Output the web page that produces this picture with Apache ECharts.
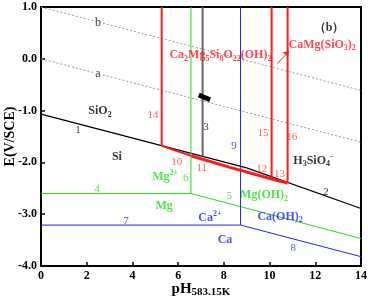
<!DOCTYPE html>
<html>
<head>
<meta charset="utf-8">
<script src="https://cdn.jsdelivr.net/npm/echarts@6/dist/echarts.min.js"></script>
<style>
  html, body { margin: 0; padding: 0; background: #fff; }
  #chart { width: 368px; height: 299px; }
</style>
</head>
<body>
<div id="chart"></div>
<script>
  // boundary lines, [pH, E] pairs
  var lineB = [[0, 1.0], [14, -0.61]];
  var lineA = [[0, 0.0], [14, -1.61]];
  var line1 = [[0, -1.07], [9.0, -2.105]];
  var line2 = [[9.0, -2.105], [14, -2.89]];
  var line3 = [[7.07, 1.0], [7.07, -1.883]];
  var line4 = [[0, -2.6], [6.56, -2.6]];
  var line5 = [[6.56, -2.6], [14, -3.47]];
  var line6 = [[6.56, 1.0], [6.56, -2.6]];
  var line7 = [[0, -3.21], [8.73, -3.21]];
  var line8 = [[8.73, -3.21], [14, -3.82]];
  var line9 = [[8.73, 1.0], [8.73, -3.21]];
  var line10 = [[5.28, -1.68], [6.59, -1.876]];
  var line11to13 = [[6.59, -1.876], [8.27, -2.095], [10.09, -2.32], [10.79, -2.40]];
  var line14 = [[5.28, 1.0], [5.28, -1.68]];
  var line15 = [[10.09, 1.0], [10.09, -2.32]];
  var line16 = [[10.79, 1.0], [10.79, -2.40]];
  var marker = [[6.9, -0.70], [7.4, -0.79]];
  var arrow = [[10.35, -0.09], [10.85, 0.15]];

  var xTicks = [0, 2, 4, 6, 8, 10, 12, 14];
  var yTicks = [1.0, 0.0, -1.0, -2.0, -3.0, -4.0];

  // text labels: [pH, E, text]
  var blackLabels = [
    [2.49, 0.70, 'b'], [2.49, -0.29, 'a'],
    [1.62, -1.37, '1'], [7.22, -1.32, '3'], [12.47, -2.57, '2']
  ];
  var blackBold = [
    [2.58, -1.01, 'SiO{s|2}'], [3.32, -1.90, 'Si'],
    [11.9, -1.97, 'H{s|3}SiO{s|4}{p|-}'], [12.6, 0.59, '（b）']
  ];
  var redNums = [
    [4.9, -1.08, '14'], [9.71, -1.43, '15'], [10.97, -1.52, '16'],
    [5.94, -1.99, '10'], [7.03, -2.11, '11'], [9.66, -2.13, '12'], [10.43, -2.23, '13']
  ];
  var redBold = [
    [7.85, 0.07, 'Ca{s|2}Mg{s|5}Si{s|8}O{s|22}(OH){s|2}'],
    [12.3, 0.27, 'CaMg(SiO{s|3}){s|2}']
  ];
  var greenNums = [[2.45, -2.51, '4'], [6.33, -2.31, '6'], [8.24, -2.66, '5']];
  var greenBold = [
    [5.43, -2.28, 'Mg{p|2+}'], [9.76, -2.63, 'Mg(OH){s|2}'], [5.39, -2.84, 'Mg']
  ];
  var blueNums = [[3.72, -3.13, '7'], [8.44, -1.68, '9'], [11.04, -3.66, '8']];
  var blueBold = [
    [7.39, -3.07, 'Ca{p|2+}'], [10.46, -3.05, 'Ca(OH){s|2}'], [8.05, -3.5, 'Ca']
  ];

  var FONT = '"Liberation Serif", "Times New Roman", serif';
  var RED = '#ff1a1a', GREEN = '#22dd22', BLUE = '#2222ee';

  function richFor(color) {
    return {
      s: { fontFamily: FONT, fontWeight: 'bold', fontSize: 8, color: color, lineHeight: 8, verticalAlign: 'bottom' },
      p: { fontFamily: FONT, fontWeight: 'bold', fontSize: 8, color: color, lineHeight: 8, verticalAlign: 'top' }
    };
  }

  function lineSeries(data, color, width, type) {
    return {
      type: 'line', data: data, symbol: 'none', silent: true,
      lineStyle: { color: color, width: width, type: type || 'solid' },
      z: 3
    };
  }

  function textSeries(list, color, bold, size, bg) {
    return {
      type: 'scatter', symbolSize: 0, silent: true, z: 10,
      data: list.map(function (d) {
        return {
          value: [d[0], d[1]],
          label: {
            show: true, position: 'inside', formatter: d[2],
            color: color, fontFamily: FONT, fontSize: size,
            fontWeight: bold ? 'bold' : 'normal', lineHeight: size + 3,
            backgroundColor: bg || 'transparent', padding: bg ? [0, 2] : 0,
            rich: richFor(color)
          }
        };
      })
    };
  }

  var chart = echarts.init(document.getElementById('chart'));
  chart.setOption({
    animation: false,
    grid: {
      left: 41, top: 7, right: 7, bottom: 33,
      containLabel: false, outerBoundsMode: 'none',
      show: true, borderColor: '#000', borderWidth: 2, backgroundColor: '#fff'
    },
    xAxis: {
      type: 'value', min: 0, max: 14, interval: 2,
      name: '{a|pH}{b|583.15K}', nameLocation: 'middle', nameGap: 14, nameMoveOverlap: false,
      nameTextStyle: {
        verticalAlign: 'top',
        rich: {
          a: { fontFamily: FONT, fontWeight: 'bold', fontSize: 15, color: '#000', lineHeight: 18 },
          b: { fontFamily: FONT, fontWeight: 'bold', fontSize: 11, color: '#000', lineHeight: 11, verticalAlign: 'bottom' }
        }
      },
      axisLine: { onZero: false, lineStyle: { color: '#000', width: 2 } },
      axisTick: { inside: true, length: 4, lineStyle: { color: '#000', width: 1.5 } },
      axisLabel: {
        fontFamily: FONT, fontWeight: 'bold', fontSize: 12, color: '#000', margin: 4,
        formatter: function (v) { return xTicks.indexOf(v) >= 0 ? String(v) : ''; }
      },
      splitLine: { show: false }
    },
    yAxis: {
      type: 'value', min: -4, max: 1, interval: 1,
      name: 'E(V/SCE)', nameLocation: 'middle', nameGap: 24, nameRotate: 90, nameMoveOverlap: false,
      nameTextStyle: { fontFamily: FONT, fontWeight: 'bold', fontSize: 14, color: '#000' },
      axisLine: { onZero: false, lineStyle: { color: '#000', width: 2 } },
      axisTick: { inside: true, length: 4, lineStyle: { color: '#000', width: 1.5 } },
      axisLabel: {
        fontFamily: FONT, fontWeight: 'bold', fontSize: 12, color: '#000', margin: 4,
        formatter: function (v) { return yTicks.indexOf(v) >= 0 ? v.toFixed(1) : ''; }
      },
      splitLine: { show: false }
    },
    series: [
      lineSeries(lineB, '#999', 1, [2, 2]),
      lineSeries(lineA, '#999', 1, [2, 2]),
      lineSeries(line1, '#000', 1.3),
      lineSeries(line2, '#000', 1.3),
      lineSeries(line3, '#666', 2),
      lineSeries(line4, GREEN, 1),
      lineSeries(line5, GREEN, 1),
      lineSeries(line6, GREEN, 1),
      lineSeries(line7, BLUE, 1),
      lineSeries(line8, BLUE, 1),
      lineSeries(line9, BLUE, 1),
      lineSeries(line10, RED, 2),
      lineSeries(line11to13, RED, 3),
      lineSeries(line14, RED, 2),
      lineSeries(line15, RED, 2),
      lineSeries(line16, RED, 2),
      lineSeries(marker, '#000', 5),
      {
        type: 'lines', coordinateSystem: 'cartesian2d', silent: true, z: 4,
        symbol: ['none', 'arrow'], symbolSize: 6,
        lineStyle: { color: RED, width: 1, opacity: 1 },
        data: [{ coords: arrow }]
      },
      textSeries(blackLabels.slice(0, 2), '#000', false, 12, '#fff'),
      textSeries(blackLabels.slice(2), '#000', false, 11),
      textSeries(blackBold, '#000', true, 12),
      textSeries(redNums, '#ff3333', false, 11),
      textSeries(redBold, RED, true, 12),
      textSeries(greenNums, GREEN, false, 11),
      textSeries(greenBold, GREEN, true, 12),
      textSeries(blueNums, BLUE, false, 11),
      textSeries(blueBold, BLUE, true, 12)
    ]
  });
</script>
</body>
</html>
